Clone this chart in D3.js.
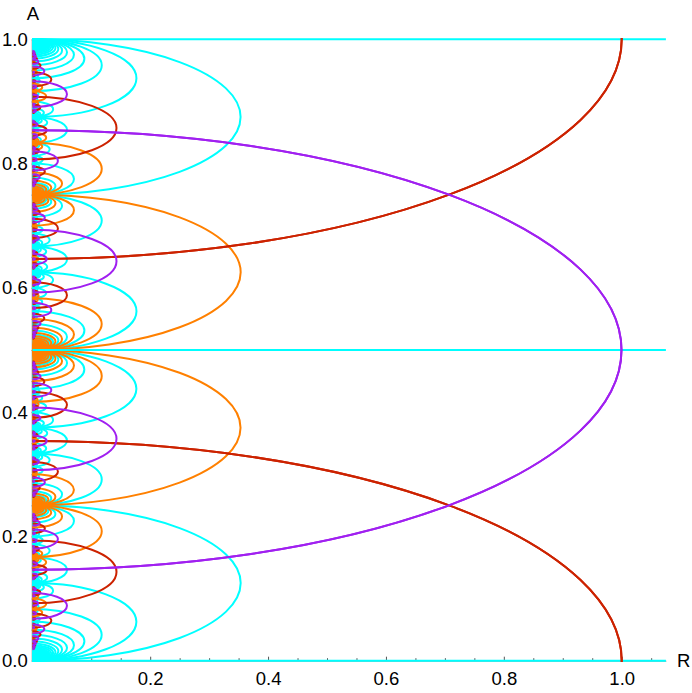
<!DOCTYPE html>
<html><head><meta charset="utf-8">
<script src="https://cdn.jsdelivr.net/npm/d3@7"></script>
<style>html,body{margin:0;padding:0;background:#fff;}svg{display:block;}</style>
</head><body>
<svg id="chart" width="692" height="693"></svg>
<script>
// ---------------- data ----------------
const rDomain = [0, 1.075];          // horizontal axis "R"
const aDomain = [0, 1];              // vertical axis "A"
const xTickValues = [0.2, 0.4, 0.6, 0.8, 1.0];
const xMinorTicks = [0.05,0.1,0.15,0.25,0.3,0.35,0.45,0.5,0.55,0.65,0.7,0.75,0.85,0.9,0.95,1.05];
const yTickValues = [0.0, 0.2, 0.4, 0.6, 0.8, 1.0];
const yMinorTicks = [0.05,0.1,0.15,0.25,0.3,0.35,0.45,0.5,0.55,0.65,0.7,0.75,0.85,0.9,0.95];
// straight (cyan) lines and the big arcs seen in the picture
const straightLinesA = [0, 0.5, 1];
const bigArcCentersA = [0, 0.5, 1];
const bigArcReach = [1, 1, 1];
const bigArcHalfHeight = [0.354, 0.354, 0.354];
const halfPeriodA = 0.5;
const familyNames = ["cyan", "orange", "red", "purple"];
const familyColors = ["#00ffff", "#ff8000", "#cc2200", "#a020f0"];
const minLoopReach = 0.0012;   // smallest loops still visible near the axis
const minArcReach = 0.0028;

// ---------------- build the families ----------------
const S2 = Math.SQRT2;
function gcd(a, b) { a = Math.abs(a); b = Math.abs(b); while (b) { const t = a % b; a = b; b = t; } return a; }
function modInv(a, m) {
  if (m === 1) return 0;
  a = ((a % m) + m) % m;
  let r0 = a, r1 = m, s0 = 1, s1 = 0;
  while (r1) { const q = Math.floor(r0 / r1); [r0, r1] = [r1, r0 - q * r1]; [s0, s1] = [s1, s0 - q * s1]; }
  return ((s0 % m) + m) % m;
}
const mod2 = v => ((v % 2) + 2) % 2;

const loops = [];
const arcMap = new Map();

function addArc(alpha, b, c, d) {
  const g1 = (S2 * alpha + b) / (c + S2 * d);
  const gm1 = (b - S2 * alpha) / (S2 * d - c);
  const A1 = g1 / (2 * S2), A2 = gm1 / (2 * S2);
  const cen = (A1 + A2) / 2, h = Math.abs(A1 - A2) / 2;
  const reach = h * 2 * S2;
  if (reach < minArcReach) return;
  const n = Math.floor(cen / halfPeriodA);
  const cn = cen - n * halfPeriodA;
  const par = mod2(alpha + d + n);
  const key = Math.round(cn * 1e8) + ":" + Math.round(h * 1e8);
  if (!arcMap.has(key)) arcMap.set(key, { cn, h, reach, par });
}

const N = Math.floor(1 / (2 * S2 * minLoopReach));
addArc(0, -1, 1, 0);
for (let c = 1; c <= N; c += 2) {
  const dMax = Math.floor(N / c);
  for (let dd = 1; dd <= dMax; dd++) {
    if (gcd(c, dd) !== 1) continue;
    for (const d of [dd, -dd]) {
      const alpha = modInv(2 * d, c);
      const b = (2 * alpha * d - 1) / c;
      const p0 = alpha / (2 * c), q0 = b / (4 * d);
      const lo = Math.min(p0, q0), hi = Math.max(p0, q0);
      const r = 1 / (2 * S2 * c * dd);
      const tmin = Math.ceil((aDomain[0] - lo) / halfPeriodA - 1e-9);
      const tmax = Math.floor((aDomain[1] - hi) / halfPeriodA + 1e-9);
      for (let t = tmin; t <= tmax; t++) {
        const orange = mod2(alpha + t) === 1 && mod2(d) === 1;
        loops.push({ a1: lo + t * halfPeriodA, a2: hi + t * halfPeriodA, r, fam: orange ? 1 : 0 });
      }
      addArc(alpha, b, c, d);
    }
  }
}
const arcs = [];
for (const o of arcMap.values()) {
  const tmin = Math.ceil((aDomain[0] - (o.cn + o.h)) / halfPeriodA);
  const tmax = Math.floor((aDomain[1] - (o.cn - o.h)) / halfPeriodA);
  for (let t = tmin; t <= tmax; t++) {
    const c = o.cn + t * halfPeriodA;
    arcs.push({ a1: c - o.h, a2: c + o.h, r: o.reach, fam: mod2(o.par + t) === 1 ? 3 : 2 });
  }
}

// ---------------- drawing ----------------
const svg = d3.select("#chart");
const x = d3.scaleLinear().domain(rDomain).range([32.3, 32.3 + 589.4 * rDomain[1]]);
const y = d3.scaleLinear().domain(aDomain).range([660.7, 39.3]);
const font = "'Liberation Sans', Arial, Helvetica, sans-serif";

const gx = svg.append("g").attr("transform", `translate(0,${y(0)})`)
  .call(d3.axisBottom(x).tickValues(xTickValues).tickSize(-4).tickSizeOuter(0).tickPadding(11).tickFormat(d3.format(".1f")));
const gxm = svg.append("g").attr("transform", `translate(0,${y(0)})`)
  .call(d3.axisBottom(x).tickValues(xMinorTicks).tickSize(-2.5).tickSizeOuter(0).tickFormat(""));
gxm.select(".domain").remove();
const gy = svg.append("g").attr("transform", `translate(${x(0) - 0.6},0)`)
  .call(d3.axisLeft(y).tickValues(yTickValues).tickSize(-4).tickSizeOuter(0).tickPadding(4).tickFormat(d3.format(".1f")));
const gym = svg.append("g").attr("transform", `translate(${x(0) - 0.6},0)`)
  .call(d3.axisLeft(y).tickValues(yMinorTicks).tickSize(-2.5).tickSizeOuter(0).tickFormat(""));
gym.select(".domain").remove();
[gx, gy, gxm, gym].forEach(g => {
  g.selectAll(".domain").attr("stroke", "#999").attr("stroke-width", 1);
  g.selectAll(".tick line").attr("stroke", "#555").attr("stroke-width", 1);
  g.selectAll(".tick text").attr("fill", "#000").style("font-family", font).style("font-size", "18.5px");
});

svg.append("defs").append("clipPath").attr("id", "plotclip").append("rect")
  .attr("x", x(0)).attr("y", y(1) - 1.2).attr("width", x(rDomain[1]) - x(0) + 1).attr("height", y(0) - y(1) + 2.4);

const plot = svg.append("g").attr("clip-path", "url(#plotclip)")
  .attr("fill", "none").attr("stroke-width", 2);

function loopPath(o) {
  const x0 = x(0), y1 = y(o.a1), y2 = y(o.a2);
  const rx = x(o.r) - x(0), ry = (y1 - y2) / 2;
  return `M${x0},${y1}A${rx},${ry} 0 0 0 ${x0},${y2}`;
}

[0, 1].forEach(f => {
  plot.append("g").selectAll("path")
    .data(loops.filter(o => o.fam === f).sort((a, b) => b.r - a.r))
    .join("path").attr("d", loopPath).attr("stroke", familyColors[f]);
});
plot.append("g").selectAll("path").data(straightLinesA).join("path")
  .attr("d", a => `M${x(0)},${y(a)}H${x(rDomain[1])}`).attr("stroke", familyColors[0]);
[2, 3].forEach(f => {
  plot.append("g").selectAll("path")
    .data(arcs.filter(o => o.fam === f).sort((a, b) => b.r - a.r))
    .join("path").attr("d", loopPath).attr("stroke", familyColors[f]);
});

svg.append("text").attr("x", 33).attr("y", 20).attr("text-anchor", "middle")
  .style("font-family", font).style("font-size", "18.5px").text("A");
svg.append("text").attr("x", 677).attr("y", 667).attr("text-anchor", "start")
  .style("font-family", font).style("font-size", "18.5px").text("R");
</script>
</body></html>
